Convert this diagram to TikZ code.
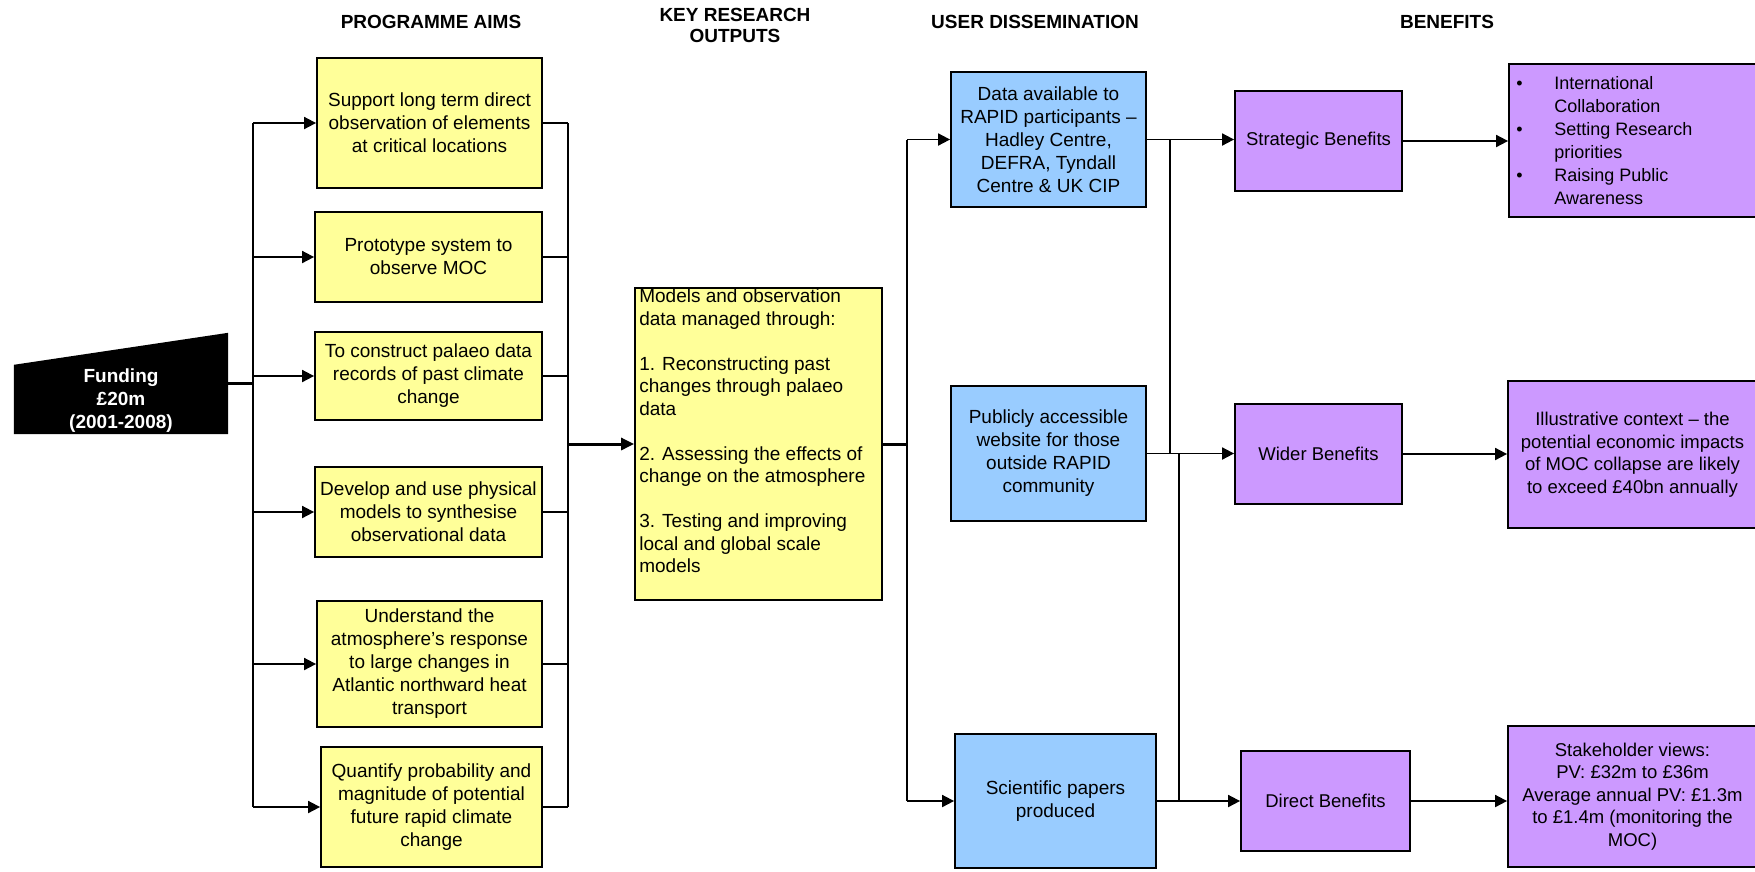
\documentclass[tikz,border=0pt]{standalone}
\usepackage{fontspec}
\setmainfont{Liberation Sans}
\usetikzlibrary{arrows.meta,calc}
\definecolor{yel}{HTML}{FFFF99}
\definecolor{blu}{HTML}{99CCFF}
\definecolor{pur}{HTML}{CC99FF}
\begin{document}
\begin{tikzpicture}[x=1pt,y=-1pt,
  box/.style={draw, line width=1.8pt, inner sep=0pt, align=center, font=\fontsize{19}{23}\selectfont},
  aim/.style={box, fill=yel},
  diss/.style={box, fill=blu},
  ben/.style={box, fill=pur, font=\fontsize{18.5}{22.5}\selectfont},
  conn/.style={line width=1.8pt},
  heavy/.style={line width=3pt},
  arr/.style={conn, -{Triangle[length=12pt,width=12pt]}},
  heavyarr/.style={heavy, -{Triangle[length=13pt,width=12pt]}},
  hdr/.style={font=\bfseries\fontsize{19}{21}\selectfont, align=center, inner sep=0pt}
]
\useasboundingbox (0,0) rectangle (1755,871);

% headers
\node[hdr] (h1) at (431,22) {PROGRAMME AIMS};
\node[hdr] (h2) at (735,25.5) {KEY RESEARCH\\OUTPUTS};
\node[hdr] (h3) at (1035,22) {USER DISSEMINATION};
\node[hdr] (h4) at (1447,22) {BENEFITS};

% funding
\node[inner sep=0pt, minimum width=214pt, minimum height=101pt] (fund) at (121,383.5) {};
\fill (fund.south west) -- (fund.south east) -- (fund.north east) -- ($(fund.north west)+(0,32)$) -- cycle;
\node[text=white, font=\bfseries\fontsize{19}{23}\selectfont, align=center, inner sep=0pt] (fundlbl) at ($(fund.center)+(0,17)$) {Funding\\£20m\\(2001-2008)};

% programme aims
\node[aim, minimum width=225pt, minimum height=130pt] (a1) at (429.5,123) {Support long term direct\\observation of elements\\at critical locations};
\node[aim, minimum width=227pt, minimum height=90pt] (a2) at (428.5,257) {Prototype system to\\observe MOC};
\node[aim, minimum width=227pt, minimum height=88pt] (a3) at (428.5,376) {To construct palaeo data\\records of past climate\\change};
\node[aim, minimum width=227pt, minimum height=90pt] (a4) at (428.5,512) {Develop and use physical\\models to synthesise\\observational data};
\node[aim, minimum width=225pt, minimum height=126pt] (a5) at (429.5,664) {Understand the\\atmosphere’s response\\to large changes in\\Atlantic northward heat\\transport};
\node[aim, minimum width=221pt, minimum height=120pt] (a6) at (431.5,807) {Quantify probability and\\magnitude of potential\\future rapid climate\\change};

% key research outputs
\node[box, fill=yel, minimum width=247pt, minimum height=312pt] (model) at (758.5,444) {};
\node[anchor=north west, inner sep=0pt, align=left, font=\fontsize{19}{22.5}\selectfont] (mtext) at ($(model.north west)+(5,1.5)$) {Models and observation\\data managed through:\\[22.5pt]1. Reconstructing past\\changes through palaeo\\data\\[22.5pt]2. Assessing the effects of\\change on the atmosphere\\[22.5pt]3. Testing and improving\\local and global scale\\models};

% dissemination
\node[diss, minimum width=195pt, minimum height=135pt] (b1) at (1048.5,139.5) {Data available to\\RAPID participants –\\Hadley Centre,\\DEFRA, Tyndall\\Centre \& UK CIP};
\node[diss, minimum width=195pt, minimum height=135pt] (b2) at (1048.5,453.5) {Publicly accessible\\website for those\\outside RAPID\\community};
\node[diss, minimum width=201pt, minimum height=134pt] (b3) at (1055.5,801) {Scientific papers\\produced};

% benefits
\node[ben, minimum width=167pt, minimum height=100pt] (s1) at (1318.5,141) {Strategic Benefits};
\node[ben, minimum width=167pt, minimum height=100pt] (s2) at (1318.5,454) {Wider Benefits};
\node[ben, minimum width=169pt, minimum height=100pt] (s3) at (1325.5,801) {Direct Benefits};

\node[ben, minimum width=248pt, minimum height=153pt] (r1) at (1633,140.5) {};
\node[anchor=west, inner sep=0pt, align=left, font=\fontsize{18}{23}\selectfont] (r1text) at ($(r1.west)+(8,0)$) {\makebox[38pt][l]{•}International\\\hspace*{38pt}Collaboration\\\makebox[38pt][l]{•}Setting Research\\\hspace*{38pt}priorities\\\makebox[38pt][l]{•}Raising Public\\\hspace*{38pt}Awareness};
\node[ben, minimum width=249pt, minimum height=147pt] (r2) at (1632.5,454.5) {Illustrative context – the\\potential economic impacts\\of MOC collapse are likely\\to exceed £40bn annually};
\node[ben, minimum width=249pt, minimum height=141pt] (r3) at (1632.5,796.5) {Stakeholder views:\\PV: £32m to £36m\\Average annual PV: £1.3m\\to £1.4m (monitoring the\\MOC)};

% bus coordinates
\coordinate (busL) at (253,0);
\coordinate (busR) at (568,0);
\coordinate (busU) at (907,0);
\coordinate (j1) at (1170,0);
\coordinate (j2) at (1179,0);

% connectors
\draw[heavy] (fund.east) -- (busL |- fund.east);
\draw[conn] (busL |- a1.west) -- (busL |- a6.west);
\draw[conn] (busR |- a1.east) -- (busR |- a6.east);
\foreach \a in {a1,a2,a3,a4,a5,a6}{
  \draw[arr] (busL |- \a.west) -- (\a.west);
  \draw[conn] (\a.east) -- (busR |- \a.east);
}
\draw[heavyarr] (busR |- model.west) -- (model.west);
\draw[heavy] (model.east) -- (busU |- model.east);
\draw[conn] (busU |- b1.west) -- (busU |- b3.west);
\draw[arr] (busU |- b1.west) -- (b1.west);
\draw[arr] (busU |- b3.west) -- (b3.west);
\draw[arr] (b1.east) -- (s1.west |- b1.east);
\draw[conn] (j1 |- b1.east) -- (j1 |- b2.east);
\draw[arr] (b2.east) -- (s2.west |- b2.east);
\draw[conn] (j2 |- b2.east) -- (j2 |- b3.east);
\draw[arr] (b3.east) -- (s3.west |- b3.east);
\draw[arr] (s1.east) -- (r1.west |- s1.east);
\draw[arr] (s2.east) -- (r2.west |- s2.east);
\draw[arr] (s3.east) -- (r3.west |- s3.east);
\end{tikzpicture}
\end{document}
